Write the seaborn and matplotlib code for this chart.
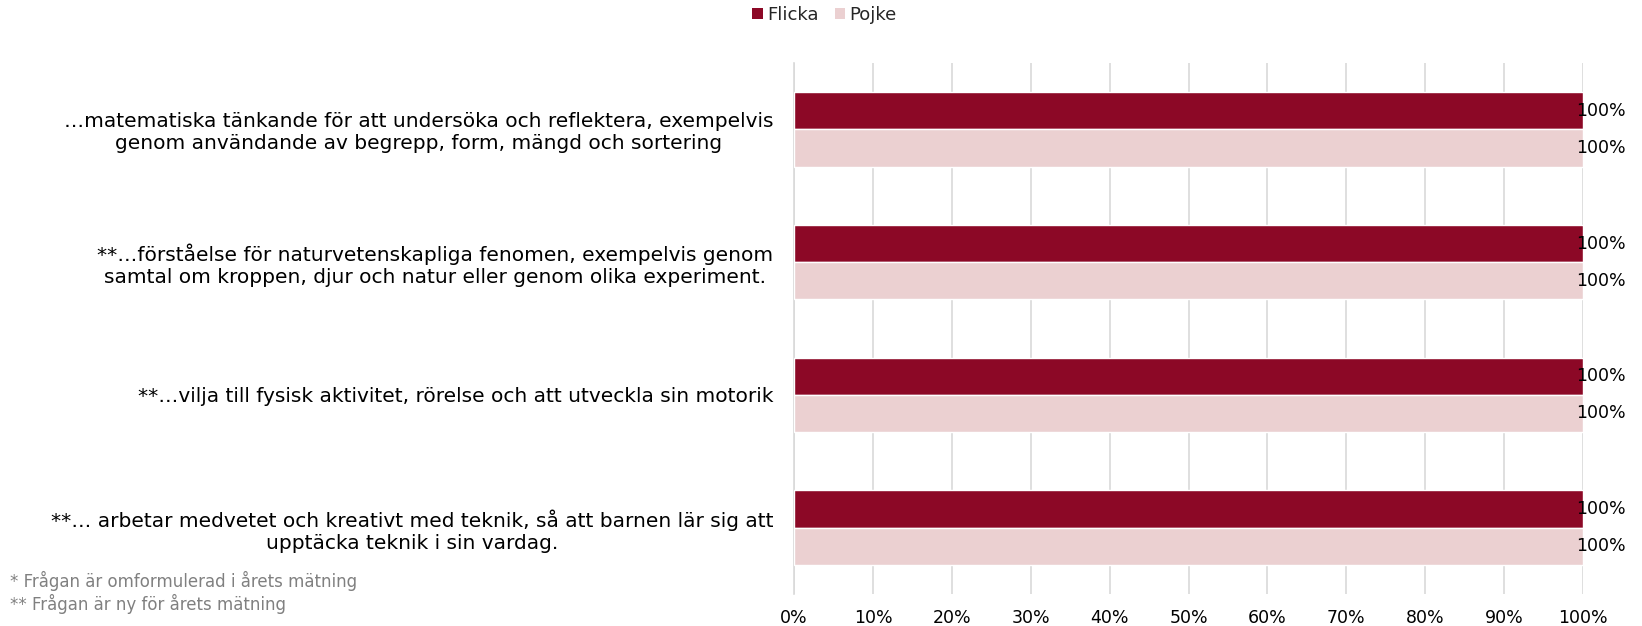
import numpy as np
import pandas as pd
import matplotlib
matplotlib.use("Agg")
import matplotlib.pyplot as plt
import seaborn as sns
from matplotlib.patches import Patch
from matplotlib.ticker import FuncFormatter, FixedLocator

# data
categories = [
    "…matematiska tänkande för att undersöka och reflektera, exempelvis\ngenom användande av begrepp, form, mängd och sortering",
    "**…förståelse för naturvetenskapliga fenomen, exempelvis genom\nsamtal om kroppen, djur och natur eller genom olika experiment.",
    "**…vilja till fysisk aktivitet, rörelse och att utveckla sin motorik",
    "**… arbetar medvetet och kreativt med teknik, så att barnen lär sig att\nupptäcka teknik i sin vardag.",
]
flicka = [100, 100, 100, 100]
pojke = [100, 100, 100, 100]
series = ["Flicka", "Pojke"]
colors = ["#8c0826", "#ebd0d1"]
footnotes = ["* Frågan är omformulerad i årets mätning", "** Frågan är ny för årets mätning"]

df = pd.DataFrame({
    "fraga": categories * 2,
    "kon": ["Flicka"] * len(categories) + ["Pojke"] * len(categories),
    "andel": flicka + pojke,
})

sns.set_style("white")
plt.rcParams["font.family"] = ["DejaVu Sans"]

fig = plt.figure(figsize=(16.42, 6.26), dpi=100)
ax = fig.add_axes([0.4836, 0.0511, 0.4805, 0.8483])

sns.barplot(data=df, y="fraga", x="andel", hue="kon", hue_order=series,
            palette=colors, orient="h", width=0.56, saturation=1,
            legend=False, ax=ax, zorder=3)

# data labels, slightly overlapping the bar end
for cont in ax.containers:
    ax.bar_label(cont, labels=[f"{v:.0f}%" for v in cont.datavalues],
                 padding=-5, fontsize=12.5, color="black")

ax.set_xlim(0, 100)
ax.set_ylim(len(categories) - 0.5, -0.5)
ax.xaxis.set_major_locator(FixedLocator(np.arange(0, 101, 10)))
ax.xaxis.set_major_formatter(FuncFormatter(lambda x, p: f"{x:.0f}%"))
ax.grid(axis="x", color="#d9d9d9", linewidth=1.2, zorder=0)
ax.grid(axis="y", visible=False)
ax.set_axisbelow(True)

for s in ["top", "right", "bottom"]:
    ax.spines[s].set_visible(False)
ax.spines["left"].set_color("#d9d9d9")
ax.spines["left"].set_linewidth(1.2)

ax.tick_params(axis="x", length=0, pad=11, labelsize=12.5, labelcolor="black")
ax.tick_params(axis="y", which="major", length=0, pad=15, labelsize=14.5, labelcolor="black")
ax.yaxis.set_minor_locator(FixedLocator(np.arange(-0.5, len(categories), 1)))
ax.tick_params(axis="y", which="minor", length=5, color="#d9d9d9", width=1.2)
for lbl in ax.get_yticklabels():
    lbl.set_multialignment("center")

ax.set_xlabel("")
ax.set_ylabel("")

handles = [Patch(facecolor=c, edgecolor="none", label=s) for s, c in zip(series, colors)]
fig.legend(handles=handles, loc="center", bbox_to_anchor=(0.502, 0.976), ncol=2,
           frameon=False, fontsize=13, handlelength=0.6, handleheight=0.6,
           handletextpad=0.2, columnspacing=0.9)

fig.text(0.006, 0.072, footnotes[0], fontsize=12, color="#808080", va="center")
fig.text(0.006, 0.035, footnotes[1], fontsize=12, color="#808080", va="center")

fig.savefig("out.png", dpi=100)
